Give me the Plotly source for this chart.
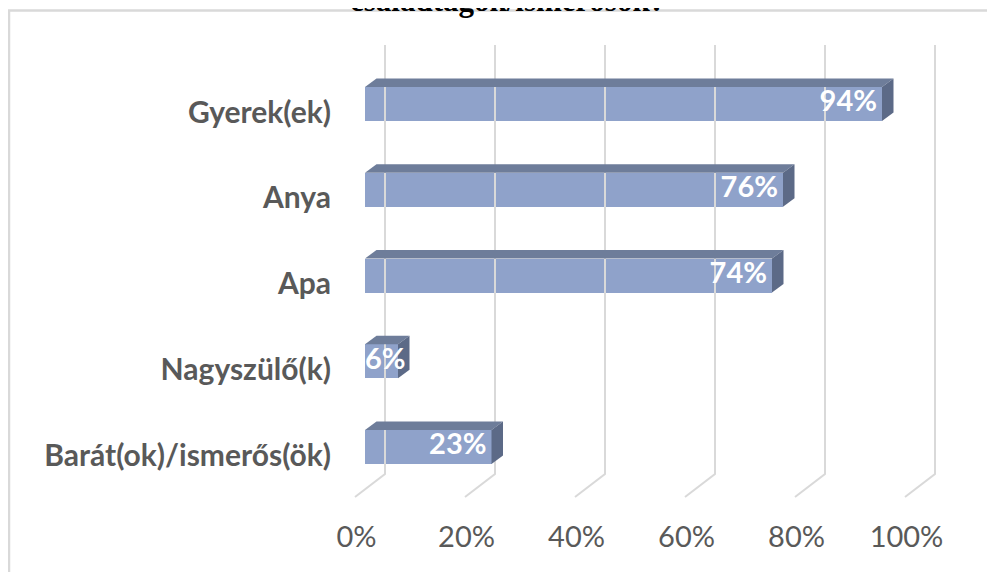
import plotly.graph_objects as go

# ---- data ----
categories = ["Barát(ok)/ismerős(ök)", "Nagyszülő(k)", "Apa", "Anya", "Gyerek(ek)"]
values = [23, 6, 74, 76, 94]
labels = ["23%", "6%", "74%", "76%", "94%"]
x_ticks = [0, 20, 40, 60, 80, 100]
x_tick_labels = ["0%", "20%", "40%", "60%", "80%", "100%"]
title_text = "családtagok/ismerősök?"

# ---- geometry (page pixel based; the page body has an 8px margin) ----
W, H = 995, 572
BODY = 8
PX_PCT = 5.5          # px per percent
PX_CAT = 85.75        # px per category step
X0_PX = 365           # page px of 0% on bar front plane
Y0_PX = 447           # page px of first category centre
L_PX, R_PX, T_PX, B_PX = 332, 959, 30, 505

def xd(px):
    return (px - X0_PX) / PX_PCT

def yd(px):
    return (Y0_PX - px) / PX_CAT

x_range = [xd(L_PX), xd(R_PX)]
y_range = [yd(B_PX), yd(T_PX)]

bar_h = 34 / PX_CAT
ddx, ddy = 11.5 / PX_PCT, 8.5 / PX_CAT
back_dx, back_floor, back_top = 20 / PX_PCT, yd(474), yd(45)
front_dx, front_floor = -10 / PX_PCT, yd(497)
label_dx = -5 / PX_PCT
min_fit = 45 / PX_PCT   # bars narrower than this get their label from the bar start

pos = list(range(len(categories)))

FRONT = "#8FA2CA"
TOP = "#6E7D9A"
SIDE = "#5C6A87"
GRID = "#D9D9D9"
TXT = "#595959"
FONT = "Lato"

fig = go.Figure()

# gridlines on back wall + floor diagonals
gx, gy = [], []
for t in x_ticks:
    gx += [t + back_dx, t + back_dx, t + front_dx, None]
    gy += [back_top, back_floor, front_floor, None]
fig.add_trace(go.Scatter(x=gx, y=gy, mode="lines", line=dict(color=GRID, width=2),
                         hoverinfo="skip", showlegend=False))

# front faces
fig.add_trace(go.Bar(x=values, y=pos, orientation="h", width=bar_h, base=0,
                     marker=dict(color=FRONT, line=dict(width=0)), showlegend=False))

# top and side faces
for v, p in zip(values, pos):
    top = p + bar_h / 2
    bot = p - bar_h / 2
    fig.add_trace(go.Scatter(
        x=[0, v, v + ddx, ddx, 0], y=[top, top, top + ddy, top + ddy, top],
        fill="toself", fillcolor=TOP, mode="lines", line=dict(width=0, color=TOP),
        hoverinfo="skip", showlegend=False))
    fig.add_trace(go.Scatter(
        x=[v, v + ddx, v + ddx, v, v], y=[bot, bot + ddy, top + ddy, top, bot],
        fill="toself", fillcolor=SIDE, mode="lines", line=dict(width=0, color=SIDE),
        hoverinfo="skip", showlegend=False))

# data labels
lx = [v + label_dx if v >= min_fit else 0 for v in values]
lpos = ["middle left" if v >= min_fit else "middle right" for v in values]
fig.add_trace(go.Scatter(x=lx, y=pos, mode="text", text=labels, textposition=lpos,
                         textfont=dict(family=FONT, size=29, color="white", weight="bold"),
                         hoverinfo="skip", showlegend=False, cliponaxis=False))

lab_dx = -8.5 / PX_PCT
cat_dy = -8 / PX_CAT

def paper_x(px):
    return (px - L_PX) / (R_PX - L_PX)

def paper_y(px):
    return (B_PX - px) / (B_PX - T_PX)

fig.update_layout(
    width=W - BODY, height=H - BODY,
    margin=dict(l=L_PX - BODY, r=W - R_PX, t=T_PX - BODY, b=H - B_PX),
    paper_bgcolor="white", plot_bgcolor="white",
    bargap=0,
    xaxis=dict(range=x_range, tickvals=[t + lab_dx for t in x_ticks], ticktext=x_tick_labels,
               showgrid=False, zeroline=False, showline=False, ticks="",
               tickfont=dict(family=FONT, size=29, color=TXT), ticklabelstandoff=12,
               fixedrange=True, automargin=False),
    yaxis=dict(range=y_range, tickvals=[p + cat_dy for p in pos], ticktext=categories,
               showgrid=False, zeroline=False, showline=False, ticks="",
               tickfont=dict(family=FONT, size=30, color=TXT, weight="bold"),
               fixedrange=True, automargin=False),
    annotations=[dict(text=title_text, xref="paper", yref="paper",
                      x=paper_x(507), y=paper_y(0), xanchor="center", yanchor="middle",
                      showarrow=False,
                      font=dict(family="Liberation Serif", size=31, color="black", weight="bold"))],
    shapes=[dict(type="path", xref="paper", yref="paper",
                 path=f"M {paper_x(9)} {paper_y(H + 5)} L {paper_x(9)} {paper_y(10.5)} L {paper_x(W + 5)} {paper_y(10.5)}",
                 line=dict(color=GRID, width=2.5), layer="below")],
)

fig.write_html("out.html")
